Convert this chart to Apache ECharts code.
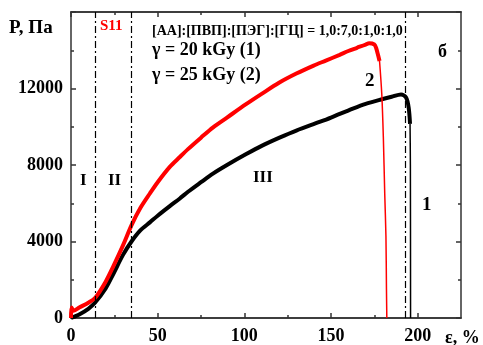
<!DOCTYPE html>
<html>
<head>
<meta charset="utf-8">
<script src="https://cdn.jsdelivr.net/npm/echarts@6/dist/echarts.min.js"></script>
<style>
  html, body { margin: 0; padding: 0; background: #fff; }
  #chart { width: 483px; height: 345px; }
</style>
</head>
<body>
<div id="chart"></div>
<script>
// strain, % and pressure, Pa
const redX = [0, 0.3, 1.5, 5, 10, 14, 20, 24.4, 30, 35, 40, 45.5, 50, 57, 62.8, 67.5, 75, 82, 90, 101, 110, 120, 130, 140, 147, 155, 160, 165, 170, 172, 175, 176, 177, 178];
const redY = [0, 550, 380, 560, 800, 1060, 1900, 2700, 3800, 4870, 5750, 6510, 7100, 7900, 8420, 8830, 9430, 9970, 10480, 11180, 11720, 12300, 12780, 13200, 13460, 13760, 13960, 14130, 14300, 14360, 14300, 14130, 13800, 13440];
const redDropX = [178, 179.3, 180.2, 181, 181.7, 182, 182.2];
const redDropY = [13440, 11700, 9450, 6500, 4260, 1500, 0];

const blackX = [0, 5, 10, 13.8, 20, 24.4, 30, 34.9, 40, 45.5, 50, 57, 62.8, 67.5, 75, 81.9, 90, 101.1, 110, 120.3, 130, 143.4, 150, 162.6, 170, 179.9, 185, 190.4, 193.3, 194.8, 195.6];
const blackY = [0, 200, 480, 795, 1550, 2300, 3300, 4000, 4580, 5000, 5350, 5850, 6250, 6600, 7100, 7550, 8000, 8570, 9000, 9430, 9800, 10250, 10480, 10950, 11200, 11450, 11570, 11690, 11530, 11010, 10150];
const blackDropX = [195.6, 195.8, 195.9];
const blackDropY = [10150, 8000, 0];

const zoneLines = [14, 35, 193];
const xMajor = [0, 50, 100, 150, 200];
const xMinor = [25, 75, 125, 175];

const pairs = (xs, ys) => xs.map((x, i) => [x, ys[i]]);

const chart = echarts.init(document.getElementById("chart"));
const font = "Liberation Serif";
const axisCol = "#333";

const xBase = {
  type: "value", min: 0, max: 225, gridIndex: 0,
  axisLine: { show: true, onZero: false, lineStyle: { color: axisCol, width: 1.5 } },
  splitLine: { show: false }
};
const xAxes = [
  Object.assign({}, xBase, {
    position: "bottom",
    axisTick: { inside: true, length: 5, customValues: xMajor, lineStyle: { color: axisCol, width: 1.5 } },
    axisLabel: { customValues: xMajor, margin: 9, color: "#000", fontFamily: font, fontWeight: "bold", fontSize: 18 }
  }),
  Object.assign({}, xBase, {
    position: "bottom",
    axisTick: { inside: true, length: 3, customValues: xMinor, lineStyle: { color: axisCol, width: 1.5 } },
    axisLabel: { show: false }
  }),
  Object.assign({}, xBase, {
    position: "top",
    axisTick: { inside: true, length: 5, customValues: xMajor, lineStyle: { color: axisCol, width: 1.5 } },
    axisLabel: { show: false }
  }),
  Object.assign({}, xBase, {
    position: "top",
    axisTick: { inside: true, length: 3, customValues: xMinor, lineStyle: { color: axisCol, width: 1.5 } },
    axisLabel: { show: false }
  })
];

const yBase = {
  type: "value", min: 0, max: 16000, interval: 4000,
  axisLine: { show: true, onZero: false, lineStyle: { color: axisCol, width: 1.5 } },
  axisTick: { inside: true, length: 5, lineStyle: { color: axisCol, width: 1.5 } },
  minorTick: { show: true, splitNumber: 2, length: 3, lineStyle: { color: axisCol, width: 1.5 } },
  splitLine: { show: false }
};
const yAxes = [
  Object.assign({}, yBase, {
    position: "left",
    axisLabel: {
      showMaxLabel: false, margin: 8, formatter: v => String(v),
      color: "#000", fontFamily: font, fontWeight: "bold", fontSize: 18
    }
  }),
  Object.assign({}, yBase, { position: "right", axisLabel: { show: false } })
];

const txt = (left, top, text, size, color) => ({
  type: "text", left, top,
  style: { text, fill: color || "#000", fontFamily: font, fontWeight: "bold", fontSize: size }
});

const line = (data, color, width, z) => ({
  type: "line", showSymbol: false, data, z,
  smooth: 0.3,
  lineStyle: { color, width }
});

const black = line(pairs(blackX, blackY), "#000", 4, 3);
black.markLine = {
  silent: true, symbol: "none", label: { show: false },
  lineStyle: { color: "#000", width: 1.2, type: [7, 3, 2, 3] },
  data: zoneLines.map(v => ({ xAxis: v }))
};

const option = {
  animation: false,
  grid: { left: 71, right: 22, top: 12, bottom: 23 },
  xAxis: xAxes,
  yAxis: yAxes,
  series: [
    black,
    line(pairs(blackDropX, blackDropY), "#000", 1.5, 3),
    line(pairs(redX, redY), "#ff0000", 4, 4),
    line(pairs(redDropX, redDropY), "#ff0000", 1.5, 4)
  ],
  graphic: [
    txt(9, 19, "P, Па", 19),
    txt(100, 19, "S11", 15, "#ff0000"),
    txt(152, 24, "[АА]:[ПВП]:[ПЭГ]:[ГЦ] = 1,0:7,0:1,0:1,0", 14),
    txt(152, 41, "γ = 20 kGy (1)", 18),
    txt(152, 66, "γ = 25 kGy (2)", 18),
    txt(438, 43, "б", 18),
    txt(365, 72, "2", 19),
    txt(422, 196, "1", 19),
    txt(80, 172, "I", 17),
    txt(108, 172, "II", 17),
    txt(253, 169, "III", 17),
    txt(445, 329, "ε, %", 18)
  ]
};

chart.setOption(option);
</script>
</body>
</html>
